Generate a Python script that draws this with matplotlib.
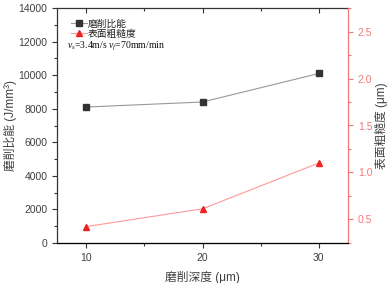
import matplotlib
matplotlib.use("Agg")
import matplotlib.pyplot as plt
from matplotlib.ticker import MultipleLocator, FormatStrFormatter

# 磨削深度 (μm)
depth = [10, 20, 30]
# 磨削比能 (J/mm^3)
energy = [8100, 8400, 10100]
# 表面粗糙度 (μm)
roughness = [0.42, 0.61, 1.10]

plt.rcParams['font.family'] = ['Liberation Sans', 'Noto Sans CJK SC', 'DejaVu Sans']
plt.rcParams['mathtext.fontset'] = 'custom'
plt.rcParams['mathtext.rm'] = 'Liberation Serif'
plt.rcParams['mathtext.it'] = 'Liberation Serif:italic'

cjk = ['Liberation Sans', 'Noto Sans CJK SC', 'DejaVu Sans']
gray = '#404040'
red = '#f07878'

fig = plt.figure(figsize=(3.89, 2.83), dpi=100)
ax = fig.add_axes([57 / 389, 40 / 283, 291 / 389, 235 / 283])
ax2 = ax.twinx()

l1, = ax.plot(depth, energy, color='#999999', lw=0.8, marker='s', ms=4,
              mfc='#333333', mec='#333333', label='磨削比能')
l2, = ax2.plot(depth, roughness, color='#ff9999', lw=0.8, marker='^', ms=4.5,
               mfc='#ee2222', mec='#ee2222', label='表面粗糙度')

ax.set_xlim(7.5, 32.5)
ax.set_ylim(0, 14000)
ax2.set_ylim(0.245, 2.755)

ax.xaxis.set_major_locator(MultipleLocator(10))
ax.xaxis.set_minor_locator(MultipleLocator(5))
ax.yaxis.set_major_locator(MultipleLocator(2000))
ax.yaxis.set_minor_locator(MultipleLocator(1000))
ax2.yaxis.set_major_locator(MultipleLocator(0.5))
ax2.yaxis.set_minor_locator(MultipleLocator(0.25))
ax2.yaxis.set_major_formatter(FormatStrFormatter('%.1f'))

ax.tick_params(axis='both', which='both', direction='out', labelsize=7.5,
               colors='#333333', labelcolor=gray, width=0.8)
ax.tick_params(axis='x', which='major', length=3.5, top=True, labeltop=False)
ax.tick_params(axis='x', which='minor', length=2, top=True)
ax.tick_params(axis='y', which='major', length=3.5)
ax.tick_params(axis='y', which='minor', length=2)
ax2.tick_params(axis='y', which='both', direction='out', labelsize=7.5,
                colors=red, width=0.8)
ax2.tick_params(axis='y', which='major', length=3.5)
ax2.tick_params(axis='y', which='minor', length=2)

for s in ['left', 'bottom', 'top']:
    ax.spines[s].set_color('#333333')
    ax.spines[s].set_linewidth(0.9)
ax2.spines['right'].set_color(red)
ax2.spines['right'].set_linewidth(0.9)
ax2.spines['left'].set_visible(False)
ax2.spines['top'].set_visible(False)
ax.spines['right'].set_visible(False)

# top ticks point inward
for t in ax.xaxis.get_major_ticks() + ax.xaxis.get_minor_ticks():
    t.tick2line.set_marker(3)

ax.set_xlabel('磨削深度 (μm)', family=cjk, fontsize=8.5, color=gray, labelpad=6)
ax.set_ylabel('磨削比能 (J/mm³)', family=cjk, fontsize=8.5, color=gray, labelpad=1)
ax2.set_ylabel('表面粗糙度 (μm)', family=cjk, fontsize=8.5, color=gray,
               rotation=90, labelpad=2)

leg = ax.legend(handles=[l1, l2], loc='upper left', bbox_to_anchor=(0.035, 0.972),
                frameon=False, prop={'family': cjk, 'size': 7},
                handlelength=1.6, handletextpad=0.15, labelspacing=0.0,
                borderaxespad=0)
for t in leg.get_texts():
    t.set_color('#222222')
ax.text(0.035, 0.835, r'$v_s$=3.4m/s $v_f$=70mm/min',
        transform=ax.transAxes, va='center',
        fontsize=7, family='Liberation Serif', color='#111111')

fig.savefig('out.png', dpi=100)
